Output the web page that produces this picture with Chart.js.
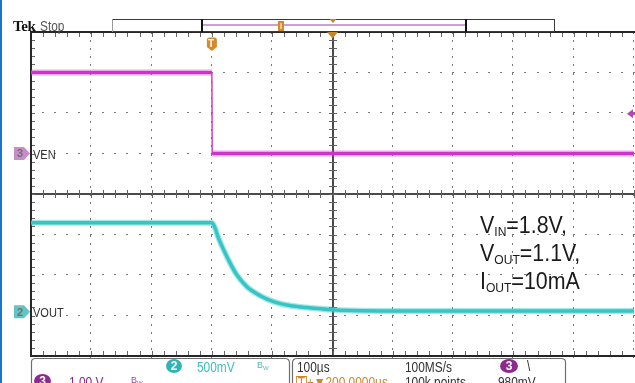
<!DOCTYPE html>
<html>
<head>
<meta charset="utf-8">
<script src="https://cdn.jsdelivr.net/npm/chart.js@4.4.1/dist/chart.umd.min.js"></script>
<style>
  html, body { margin: 0; padding: 0; background: #fff; }
  #wrap { position: relative; width: 635px; height: 383px; overflow: hidden; background: #fff; }
  #scope { position: absolute; left: 0; top: 0; }
  #edge { position: absolute; left: 0; top: 0; width: 2px; height: 383px; background: #1b74cc; }
  .t { position: absolute; white-space: nowrap; line-height: 1;
       font-family: 'Liberation Sans', Arial, sans-serif;
       transform: scaleX(0.85); transform-origin: left top; }
  .note { position: absolute; left: 480px; white-space: nowrap; line-height: 1; color: #1a1a1a;
          font-family: 'Liberation Sans', Arial, sans-serif; font-size: 23px;
          transform: scaleX(0.93); transform-origin: left top; }
  .note sub { font-size: 13px; vertical-align: baseline; position: relative; top: 3px; }
  .badge { position: absolute; border-radius: 50%; color: #fff; text-align: center;
           font: bold 12px 'Liberation Sans', sans-serif; }
  .bw { position: absolute; font: 9px 'Liberation Sans', sans-serif; line-height: 1; }
  .bw sub { font-size: 6px; vertical-align: baseline; position: relative; top: 2px; }
  .chdigit { position: absolute; font: bold 11px 'Liberation Sans', sans-serif; color: #707070; line-height: 1; }
</style>
</head>
<body>
<div id="wrap">
  <canvas id="scope" width="635" height="383"></canvas>
  <div id="edge"></div>

  <!-- header -->
  <div class="t" style="left:13px;top:18px;font:bold 15px 'Liberation Serif',serif;letter-spacing:-0.4px;color:#111;transform:none;">Tek</div>
  <div class="t" style="left:40px;top:19px;font-size:14px;color:#555;">Stop</div>

  <!-- trigger position glyph -->
  <div class="chdigit" style="left:208px;top:39px;color:#fff;font-size:10px;">T</div>

  <!-- channel ground markers and names -->
  <div class="chdigit" style="left:17px;top:148px;">3</div>
  <div class="t" style="left:33px;top:148px;font-size:13px;color:#333;">VEN</div>
  <div class="chdigit" style="left:17px;top:307px;">2</div>
  <div class="t" style="left:33px;top:306px;font-size:13px;color:#333;">VOUT</div>

  <!-- test conditions -->
  <div class="note" style="top:214px;">V<sub>IN</sub>=1.8V,</div>
  <div class="note" style="top:242px;">V<sub>OUT</sub>=1.1V,</div>
  <div class="note" style="top:270px;">I<sub>OUT</sub>=10mA</div>

  <!-- readout panel -->
  <svg style="position:absolute;left:0;top:0;" width="635" height="383">
    <path d="M31.5,383 L31.5,362 Q31.5,358.5 35.5,358.5 L285,358.5 Q289.5,358.5 289.5,363 L289.5,383" fill="none" stroke="#6e6e6e" stroke-width="1.2"/>
    <path d="M292.5,383 L292.5,363 Q292.5,358.5 297,358.5 L561,358.5 Q565.5,358.5 565.5,362 L565.5,383" fill="none" stroke="#6e6e6e" stroke-width="1.2"/>
  </svg>
  <div class="badge" style="left:166px;top:359px;width:16px;height:14px;line-height:14px;background:#2fb5b5;">2</div>
  <div class="t" style="left:197px;top:360px;font-size:14px;color:#3dbdbd;">500mV</div>
  <div class="bw" style="left:257px;top:361px;color:#58b7b7;">B<sub>W</sub></div>
  <div class="t" style="left:297px;top:360px;font-size:14px;color:#333;">100µs</div>
  <div class="t" style="left:405px;top:360px;font-size:14px;color:#333;">100MS/s</div>
  <div class="badge" style="left:500px;top:359px;width:18px;height:14px;line-height:14px;background:#8e2a8e;">3</div>
  <div class="t" style="left:527px;top:359px;font-size:14px;color:#333;">\</div>

  <div class="badge" style="left:34px;top:374px;width:17px;height:14px;line-height:14px;background:#8e2a8e;">3</div>
  <div class="t" style="left:69px;top:375px;font-size:14px;color:#8e2a8e;">1.00 V</div>
  <div class="bw" style="left:131px;top:376px;color:#9a4a9a;">B<sub>W</sub></div>
  <div class="t" style="left:296px;top:375px;font-size:14px;color:#c98a2e;"><span style="display:inline-block;border:1px solid #c98a2e;padding:0 1px;line-height:11px;">T</span>+▼200.0000µs</div>
  <div class="t" style="left:405px;top:375px;font-size:14px;color:#333;">100k points</div>
  <div class="t" style="left:498px;top:375px;font-size:14px;color:#333;">980mV</div>
</div>

<script>
// Timebase and vertical settings
const H_SCALE = 100;          // µs per division
const H_DELAY = 200;          // µs from trigger to screen centre
const CH3_SCALE = 1.0;        // V/div (VEN)
const CH3_POS = 1.0;          // divisions above centre
const CH2_SCALE = 0.5;        // V/div (VOUT)
const CH2_POS = -2.91;        // divisions from centre
const TRIG_LEVEL = 0.98;      // V on channel 3

// Channel 3: enable pin, µs vs V
const TIME_VEN = [-300, 0, 0.5, 700];
const VEN = [2.0, 2.0, 0.0, 0.0];

// Channel 2: regulator output discharge, µs vs V
const TIME_VOUT = [-300, 0, 5, 10, 18, 30, 41, 58, 80, 102, 129, 157, 200, 230, 300, 700];
const VOUT = [1.10, 1.10, 1.04, 0.93, 0.79, 0.605, 0.46, 0.31, 0.20, 0.127, 0.078, 0.053, 0.025, 0.016, 0.01, 0.01];

const pts = (xs, ys) => xs.map((x, i) => ({ x, y: ys[i] }));
const X_MIN = H_DELAY - 5 * H_SCALE;
const X_MAX = H_DELAY + 5 * H_SCALE;

function drawGraticule(chart) {
  const ctx = chart.ctx;
  const xs = chart.scales.x, gs = chart.scales.g;
  const X = d => xs.getPixelForValue(X_MIN + d * H_SCALE);
  const Y = d => gs.getPixelForValue(4 - d);
  ctx.save();
  // dotted division lines
  ctx.fillStyle = '#7a7a7a';
  for (let i = 1; i <= 10; i++) {
    if (i === 5) continue;
    const x = Math.round(X(i)) - 1;
    for (let k = 0; k <= 40; k++) ctx.fillRect(x, Math.round(Y(k / 5)), 1, 2);
  }
  for (let j = 1; j <= 7; j++) {
    if (j === 4) continue;
    const y = Math.round(Y(j)) - 1;
    for (let k = 0; k <= 50; k++) ctx.fillRect(Math.round(X(k / 5)) - 1, y, 2, 1);
  }
  // centre cross with minor ticks
  const xc = Math.round(X(5)) - 1, yc = Math.round(Y(4)) - 1;
  ctx.fillStyle = '#4a4a4a';
  ctx.fillRect(xc, Y(0), 2, Y(8) - Y(0));
  ctx.fillRect(X(0), yc, X(10) - X(0), 2);
  ctx.fillStyle = '#606060';
  for (let k = 0; k <= 40; k++) ctx.fillRect(xc - 3, Math.round(Y(k / 5)), 8, 1);
  for (let k = 0; k <= 50; k++) ctx.fillRect(Math.round(X(k / 5)), yc - 3, 1, 8);
  // frame with ticks
  const l = Math.round(X(0)), t = Math.round(Y(0)), b = Math.round(Y(8));
  ctx.fillStyle = '#262626';
  ctx.fillRect(l - 1, t - 1, 2, b - t + 2);
  ctx.fillRect(l - 1, t - 1, 640, 2);
  ctx.fillRect(l - 1, b - 1, 640, 2);
  ctx.fillStyle = '#666';
  for (let k = 1; k < 50; k++) {
    const x = Math.round(X(k / 5));
    ctx.fillRect(x, t + 1, 1, 4);
    ctx.fillRect(x, b - 5, 1, 4);
  }
  for (let k = 1; k < 40; k++) ctx.fillRect(l + 1, Math.round(Y(k / 5)), 3, 1);
  ctx.restore();
}

function drawMarkers(chart) {
  const ctx = chart.ctx;
  const xs = chart.scales.x, y3 = chart.scales.y3, y2 = chart.scales.y2;
  ctx.save();
  // trigger position shield
  const tx = xs.getPixelForValue(0);
  ctx.fillStyle = '#d68a2c';
  ctx.beginPath();
  ctx.moveTo(tx - 5, 40); ctx.quadraticCurveTo(tx - 5, 37.5, tx - 2.5, 37.5);
  ctx.lineTo(tx + 2.5, 37.5); ctx.quadraticCurveTo(tx + 5, 37.5, tx + 5, 40);
  ctx.lineTo(tx + 5, 47); ctx.lineTo(tx, 51); ctx.lineTo(tx - 5, 47); ctx.closePath();
  ctx.fill();
  // expansion point
  const xc = xs.getPixelForValue(H_DELAY);
  ctx.fillStyle = '#c98328';
  ctx.beginPath();
  ctx.moveTo(xc - 5.5, 32); ctx.lineTo(xc + 5.5, 32); ctx.lineTo(xc, 38.5); ctx.closePath(); ctx.fill();
  // ground markers
  const gm = (y, col) => {
    ctx.fillStyle = col;
    ctx.beginPath();
    ctx.moveTo(14, y - 6.5); ctx.lineTo(24, y - 6.5); ctx.lineTo(30, y);
    ctx.lineTo(24, y + 6.5); ctx.lineTo(14, y + 6.5); ctx.closePath(); ctx.fill();
  };
  gm(y3.getPixelForValue(0), '#c98cc9');
  gm(y2.getPixelForValue(0), '#62c4c4');
  // trigger level arrow
  const ty = y3.getPixelForValue(TRIG_LEVEL);
  ctx.fillStyle = '#b246b2';
  ctx.beginPath();
  ctx.moveTo(627, ty); ctx.lineTo(633, ty - 4.5); ctx.lineTo(633, ty + 4.5); ctx.closePath(); ctx.fill();
  ctx.fillRect(632, ty - 1, 4, 2);
  // record view bar
  ctx.strokeStyle = '#3a3a3a'; ctx.lineWidth = 1;
  ctx.strokeRect(112.5, 19.5, 442, 12);
  ctx.fillStyle = '#9a9a9a'; ctx.fillRect(112, 19, 1, 13);
  ctx.fillStyle = '#111';
  ctx.fillRect(201, 19, 2, 13); ctx.fillRect(465, 19, 2, 13);
  ctx.fillStyle = '#c9a2cf'; ctx.fillRect(203, 24, 262, 2);
  ctx.fillStyle = '#d68a2c'; ctx.fillRect(278, 21, 6, 10);
  ctx.fillStyle = '#f2c98c'; ctx.fillRect(280, 23, 2, 6);
  ctx.fillStyle = '#c98328';
  ctx.beginPath(); ctx.moveTo(329.5, 19); ctx.lineTo(336.5, 19); ctx.lineTo(333, 23); ctx.closePath(); ctx.fill();
  ctx.restore();
}

const scopePlugin = {
  id: 'scope',
  beforeDatasetsDraw: drawGraticule,
  afterDraw: drawMarkers
};

// the enable edge is drawn as a thin vertical stroke
const thinStep = ctx => (Math.abs(ctx.p1.parsed.x - ctx.p0.parsed.x) < 1 ? 1.2 : undefined);

new Chart(document.getElementById('scope'), {
  type: 'line',
  data: {
    datasets: [
      { label: 'VEN halo', data: pts(TIME_VEN, VEN), yAxisID: 'y3', borderColor: 'rgba(205,60,205,0.45)',
        borderWidth: 6, pointRadius: 0, segment: { borderWidth: thinStep } },
      { label: 'VEN', data: pts(TIME_VEN, VEN), yAxisID: 'y3', borderColor: '#c832c8',
        borderWidth: 3, pointRadius: 0, segment: { borderWidth: thinStep } },
      { label: 'VOUT halo', data: pts(TIME_VOUT, VOUT), yAxisID: 'y2', borderColor: 'rgba(60,200,200,0.45)',
        borderWidth: 6, pointRadius: 0, cubicInterpolationMode: 'monotone' },
      { label: 'VOUT', data: pts(TIME_VOUT, VOUT), yAxisID: 'y2', borderColor: '#30c4c4',
        borderWidth: 3.5, pointRadius: 0, cubicInterpolationMode: 'monotone' }
    ]
  },
  options: {
    responsive: false,
    animation: false,
    devicePixelRatio: 1,
    events: [],
    layout: { padding: { left: 31, right: 1, top: 32, bottom: 27 } },
    plugins: { legend: { display: false }, tooltip: { enabled: false } },
    scales: {
      x: { type: 'linear', min: X_MIN, max: X_MAX, display: false },
      g: { type: 'linear', axis: 'y', min: -4, max: 4, display: false },
      y3: { type: 'linear', min: (-4 - CH3_POS) * CH3_SCALE, max: (4 - CH3_POS) * CH3_SCALE, display: false },
      y2: { type: 'linear', min: (-4 - CH2_POS) * CH2_SCALE, max: (4 - CH2_POS) * CH2_SCALE, display: false }
    }
  },
  plugins: [scopePlugin]
});
</script>
</body>
</html>
